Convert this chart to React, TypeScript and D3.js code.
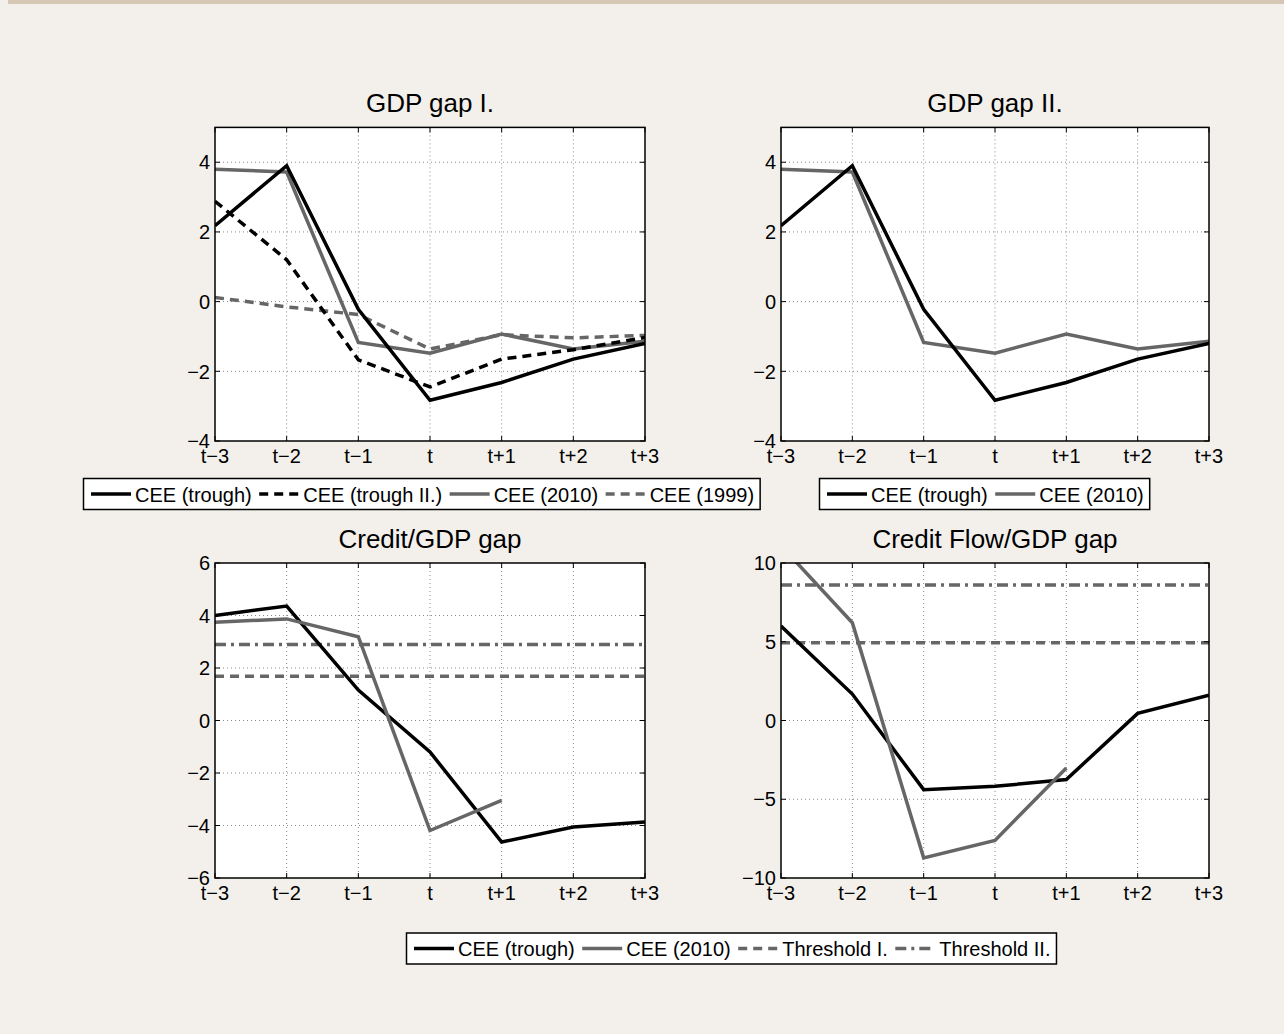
import React from "react";
import * as d3 from "d3";

const periods = ["t\u22123", "t\u22122", "t\u22121", "t", "t+1", "t+2", "t+3"];

const gdpTrough = [2.18, 3.9, -0.22, -2.83, -2.32, -1.65, -1.2];
const gdpTroughII = [2.88, 1.2, -1.67, -2.45, -1.65, -1.38, -1.03];
const gdp2010 = [3.8, 3.72, -1.17, -1.48, -0.93, -1.36, -1.14];
const gdp1999 = [0.12, -0.15, -0.37, -1.36, -0.95, -1.04, -0.97];

const creditTrough = [4.0, 4.36, 1.16, -1.2, -4.63, -4.06, -3.87];
const credit2010 = [3.74, 3.87, 3.19, -4.19, -3.04];
const creditThresholdI = 1.69;
const creditThresholdII = 2.9;

const flowTrough = [6.0, 1.68, -4.39, -4.18, -3.75, 0.45, 1.61];
const flow2010 = [11.1, 6.21, -8.72, -7.61, -3.01];
const flowThresholdI = 4.94;
const flowThresholdII = 8.61;

const gdpTicks = [-4, -2, 0, 2, 4];
const creditTicks = [-6, -4, -2, 0, 2, 4, 6];
const flowTicks = [-10, -5, 0, 5, 10];

const FONT = "'Liberation Sans', Arial, Helvetica, sans-serif";
const BLACK = "#000000";
const GRAY = "#666666";
const DASH = "9,6";
const DASHDOT = "11,5,3,5";
const LW = 3.5;

type Series = { values: number[]; color: string; dash?: string };

function fmt(v: number) {
  return v < 0 ? "\u2212" + Math.abs(v) : String(v);
}

function Panel(props: {
  id: string;
  x0: number; x1: number; y0: number; y1: number;
  domain: [number, number];
  ticks: number[];
  title: string;
  series: Series[];
  hlines: { value: number; dash: string }[];
}) {
  const { id, x0, x1, y0, y1, domain, ticks, title, series, hlines } = props;
  const x = d3.scalePoint<string>().domain(periods).range([x0, x1]);
  const y = d3.scaleLinear().domain(domain).range([y1, y0]);
  const line = d3
    .line<number>()
    .x((_, i) => x(periods[i]) as number)
    .y((d) => y(d));
  const cx = (x0 + x1) / 2;
  return (
    <g>
      <defs>
        <clipPath id={id}>
          <rect x={x0} y={y0} width={x1 - x0} height={y1 - y0} />
        </clipPath>
      </defs>
      <rect x={x0} y={y0} width={x1 - x0} height={y1 - y0} fill="#ffffff" />
      {/* grid */}
      {periods.slice(1, -1).map((p) => (
        <line key={"gx" + p} x1={x(p)} x2={x(p)} y1={y0} y2={y1}
          stroke="#8a8a8a" strokeWidth={1} strokeDasharray="1,3" />
      ))}
      {ticks.filter((t) => t !== domain[0] && t !== domain[1]).map((t) => (
        <line key={"gy" + t} x1={x0} x2={x1} y1={y(t)} y2={y(t)}
          stroke="#8a8a8a" strokeWidth={1} strokeDasharray="1,3" />
      ))}
      {/* data */}
      <g clipPath={`url(#${id})`}>
        {hlines.map((h, i) => (
          <line key={"h" + i} x1={x0} x2={x1} y1={y(h.value)} y2={y(h.value)}
            stroke={GRAY} strokeWidth={LW} strokeDasharray={h.dash} />
        ))}
        {series.map((s, i) => (
          <path key={"s" + i} d={line(s.values) || ""} fill="none"
            stroke={s.color} strokeWidth={LW} strokeDasharray={s.dash}
            strokeLinejoin="miter" />
        ))}
      </g>
      {/* inner ticks */}
      {periods.map((p) => (
        <g key={"tx" + p}>
          <line x1={x(p)} x2={x(p)} y1={y1} y2={y1 - 5} stroke="#000" strokeWidth={1} />
          <line x1={x(p)} x2={x(p)} y1={y0} y2={y0 + 5} stroke="#000" strokeWidth={1} />
        </g>
      ))}
      {ticks.map((t) => (
        <g key={"ty" + t}>
          <line x1={x0} x2={x0 + 5} y1={y(t)} y2={y(t)} stroke="#000" strokeWidth={1} />
          <line x1={x1} x2={x1 - 5} y1={y(t)} y2={y(t)} stroke="#000" strokeWidth={1} />
        </g>
      ))}
      <rect x={x0} y={y0} width={x1 - x0} height={y1 - y0} fill="none"
        stroke="#000" strokeWidth={1.5} />
      {/* labels */}
      {periods.map((p) => (
        <text key={"lx" + p} x={x(p)} y={y1 + 22} textAnchor="middle"
          fontSize={20} fontFamily={FONT} fill="#000">{p}</text>
      ))}
      {ticks.map((t) => (
        <text key={"ly" + t} x={x0 - 5} y={y(t)} dy="0.36em" textAnchor="end"
          fontSize={20} fontFamily={FONT} fill="#000">{fmt(t)}</text>
      ))}
      <text x={cx} y={y0 - 15} textAnchor="middle" fontSize={26}
        fontFamily={FONT} fill="#000">{title}</text>
    </g>
  );
}

type LegendItem = { label: string; color: string; dash?: string };

let measureCtx: CanvasRenderingContext2D | null = null;
function textWidth(s: string) {
  if (!measureCtx) {
    const c = document.createElement("canvas");
    measureCtx = c.getContext("2d");
  }
  if (!measureCtx) return s.length * 10;
  measureCtx.font = `20px 'Liberation Sans', Arial, sans-serif`;
  return measureCtx.measureText(s).width;
}

function Legend(props: { left: number; top: number; items: LegendItem[] }) {
  const { left, top, items } = props;
  const h = 31;
  let cur = left + 7.5;
  const parts: React.ReactNode[] = [];
  items.forEach((it, i) => {
    const sx = cur;
    const tx = sx + 44;
    const w = textWidth(it.label);
    parts.push(
      <g key={i}>
        <line x1={sx} x2={sx + 40} y1={top + h / 2} y2={top + h / 2}
          stroke={it.color} strokeWidth={LW} strokeDasharray={it.dash} />
        <text x={tx} y={top + 23} fontSize={20} fontFamily={FONT} fill="#000">
          {it.label}
        </text>
      </g>
    );
    cur = tx + w + 7.5;
  });
  const right = cur - 7.5 + 6;
  return (
    <g>
      <rect x={left} y={top} width={right - left} height={h} fill="#ffffff"
        stroke="#000" strokeWidth={1.5} />
      {parts}
    </g>
  );
}

export default function App() {
  React.useEffect(() => {
    document.body.style.margin = "0";
  }, []);
  return (
    <svg width={1284} height={1034} style={{ position: "absolute", left: 0, top: 0 }}
      xmlns="http://www.w3.org/2000/svg">
      <rect x={0} y={0} width={1284} height={1034} fill="#f3f0ec" />
      <rect x={8} y={0} width={1276} height={4} fill="#d6c7b5" />
      <Panel id="c1" x0={215} x1={645} y0={127.4} y1={441} domain={[-4, 5]}
        ticks={gdpTicks} title="GDP gap I."
        series={[
          { values: gdp1999, color: GRAY, dash: DASH },
          { values: gdp2010, color: GRAY },
          { values: gdpTroughII, color: BLACK, dash: DASH },
          { values: gdpTrough, color: BLACK },
        ]}
        hlines={[]} />
      <Panel id="c2" x0={781} x1={1209} y0={127.4} y1={441} domain={[-4, 5]}
        ticks={gdpTicks} title="GDP gap II."
        series={[
          { values: gdp2010, color: GRAY },
          { values: gdpTrough, color: BLACK },
        ]}
        hlines={[]} />
      <Panel id="c3" x0={215} x1={645} y0={563} y1={878} domain={[-6, 6]}
        ticks={creditTicks} title="Credit/GDP gap"
        series={[
          { values: creditTrough, color: BLACK },
          { values: credit2010, color: GRAY },
        ]}
        hlines={[
          { value: creditThresholdI, dash: DASH },
          { value: creditThresholdII, dash: DASHDOT },
        ]} />
      <Panel id="c4" x0={781} x1={1209} y0={563} y1={878} domain={[-10, 10]}
        ticks={flowTicks} title="Credit Flow/GDP gap"
        series={[
          { values: flowTrough, color: BLACK },
          { values: flow2010, color: GRAY },
        ]}
        hlines={[
          { value: flowThresholdI, dash: DASH },
          { value: flowThresholdII, dash: DASHDOT },
        ]} />
      <Legend left={83.5} top={478.5} items={[
        { label: "CEE (trough)", color: BLACK },
        { label: "CEE (trough II.)", color: BLACK, dash: DASH },
        { label: "CEE (2010)", color: GRAY },
        { label: "CEE (1999)", color: GRAY, dash: DASH },
      ]} />
      <Legend left={819.5} top={478.5} items={[
        { label: "CEE (trough)", color: BLACK },
        { label: "CEE (2010)", color: GRAY },
      ]} />
      <Legend left={406.5} top={933} items={[
        { label: "CEE (trough)", color: BLACK },
        { label: "CEE (2010)", color: GRAY },
        { label: "Threshold I.", color: GRAY, dash: DASH },
        { label: "Threshold II.", color: GRAY, dash: DASHDOT },
      ]} />
    </svg>
  );
}
